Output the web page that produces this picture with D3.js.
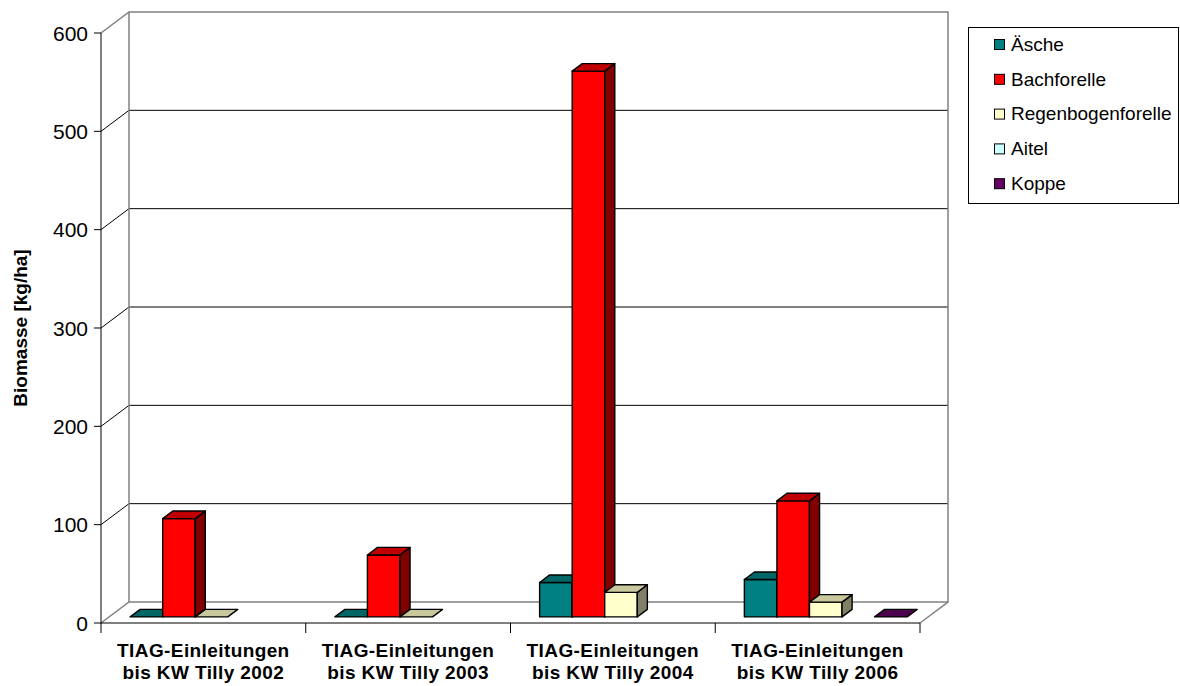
<!DOCTYPE html>
<html>
<head>
<meta charset="utf-8">
<script src="https://cdn.jsdelivr.net/npm/d3@7"></script>
<style>
  body { margin: 0; background: #fff; }
  svg { font-family: "Liberation Sans", Arial, sans-serif; }
</style>
</head>
<body>
<svg width="1180" height="686"></svg>
<script>
var categories = [
  ["TIAG-Einleitungen", "bis KW Tilly 2002"],
  ["TIAG-Einleitungen", "bis KW Tilly 2003"],
  ["TIAG-Einleitungen", "bis KW Tilly 2004"],
  ["TIAG-Einleitungen", "bis KW Tilly 2006"]
];
var seriesNames = ["Äsche", "Bachforelle", "Regenbogenforelle", "Aitel", "Koppe"];
// null = no value (not drawn)
var aesche = [0, 0, 35, 38];
var bachforelle = [100, 63, 555, 118];
var regenbogen = [0, 0, 25, 15];
var aitel = [null, null, null, null];
var koppe = [null, null, null, 0];
var yTicks = [0, 100, 200, 300, 400, 500, 600];

var seriesValues = [aesche, bachforelle, regenbogen, aitel, koppe];
var colors = [
  { front: "#008080", top: "#006666", side: "#004d4d" },
  { front: "#ff0000", top: "#c00000", side: "#800000" },
  { front: "#ffffcc", top: "#c8c89c", side: "#808066" },
  { front: "#ccffff", top: "#a3cccc", side: "#668080" },
  { front: "#660066", top: "#4d004d", side: "#330033" }
];

var svg = d3.select("svg");
var depthX = 28, depthY = -21;
var plotLeft = 101, plotRight = 920, plotBottom = 623, plotTop = 33;

var y = d3.scaleLinear().domain([0, 600]).range([plotBottom, plotTop]);
var x = d3.scaleBand().domain(d3.range(categories.length)).range([plotLeft, plotRight]);
var xs = d3.scaleBand().domain(d3.range(seriesNames.length))
    .range([21, x.bandwidth() - 21]);

// walls
var wall = svg.append("g");
// gridlines (side wall diagonal + back wall)
yTicks.forEach(function(t) {
  if (t === 0 || t === 600) return;
  wall.append("polyline")
    .attr("points", [[plotLeft, y(t)], [plotLeft + depthX, y(t) + depthY], [plotRight + depthX, y(t) + depthY]].join(" "))
    .attr("fill", "none").attr("stroke", "#000").attr("stroke-width", 1);
});
// wall edges (gray)
wall.append("polyline")
  .attr("points", [[plotLeft, y(600)], [plotLeft + depthX, y(600) + depthY], [plotRight + depthX, y(600) + depthY],
                   [plotRight + depthX, y(0) + depthY], [plotRight, y(0)]].join(" "))
  .attr("fill", "none").attr("stroke", "#808080").attr("stroke-width", 1.5);
wall.append("line")
  .attr("x1", plotLeft + depthX).attr("y1", y(600) + depthY)
  .attr("x2", plotLeft + depthX).attr("y2", y(0) + depthY)
  .attr("stroke", "#808080").attr("stroke-width", 1.5);
wall.append("polyline")
  .attr("points", [[plotLeft, y(0)], [plotLeft + depthX, y(0) + depthY], [plotRight + depthX, y(0) + depthY]].join(" "))
  .attr("fill", "none").attr("stroke", "#808080").attr("stroke-width", 1.5);

// axes
svg.append("line").attr("x1", plotLeft).attr("y1", y(600)).attr("x2", plotLeft).attr("y2", y(0))
  .attr("stroke", "#000");
svg.append("line").attr("x1", plotLeft).attr("y1", y(0)).attr("x2", plotRight).attr("y2", y(0))
  .attr("stroke", "#000");

yTicks.forEach(function(t) {
  svg.append("line").attr("x1", plotLeft - 7).attr("x2", plotLeft).attr("y1", y(t)).attr("y2", y(t))
    .attr("stroke", "#000");
  svg.append("text").attr("x", 88).attr("y", y(t)).attr("dy", "0.36em")
    .attr("text-anchor", "end").attr("font-size", 21).text(t);
});

d3.range(categories.length + 1).forEach(function(i) {
  var xx = plotLeft + i * x.bandwidth();
  svg.append("line").attr("x1", xx).attr("x2", xx).attr("y1", y(0)).attr("y2", y(0) + 10)
    .attr("stroke", "#000");
});

categories.forEach(function(c, i) {
  var t = svg.append("text").attr("text-anchor", "middle").attr("font-size", 19)
    .attr("font-weight", "bold").attr("letter-spacing", 0.4);
  t.append("tspan").attr("x", x(i) + x.bandwidth() / 2).attr("y", 657).text(c[0]);
  t.append("tspan").attr("x", x(i) + x.bandwidth() / 2).attr("y", 679).text(c[1]);
});

svg.append("text")
  .attr("transform", "translate(27,328) rotate(-90)")
  .attr("text-anchor", "middle").attr("font-size", 19).attr("font-weight", "bold")
  .text("Biomasse [kg/ha]");

// bars
var f0 = 0.29, f1 = 0.65;
var fx0 = depthX * f0, fy0 = depthY * f0, fx1 = depthX * f1, fy1 = depthY * f1;
var bars = svg.append("g").attr("stroke", "#000").attr("stroke-width", 1.4)
  .attr("stroke-linejoin", "round");

categories.forEach(function(c, i) {
  seriesNames.forEach(function(s, j) {
    var v = seriesValues[j][i];
    if (v === null) return;
    var x0 = x(i) + xs(j) + fx0, x1 = x0 + xs.bandwidth();
    var yb = y(0) + fy0, yt = y(v) + fy0;
    var dx = fx1 - fx0, dy = fy1 - fy0;
    var col = colors[j];
    if (v > 0) {
      bars.append("rect").attr("x", x0).attr("y", yt).attr("width", x1 - x0).attr("height", yb - yt)
        .attr("fill", col.front);
      bars.append("polygon")
        .attr("points", [[x1, yt], [x1 + dx, yt + dy], [x1 + dx, yb + dy], [x1, yb]].join(" "))
        .attr("fill", col.side);
    }
    bars.append("polygon")
      .attr("points", [[x0, yt], [x0 + dx, yt + dy], [x1 + dx, yt + dy], [x1, yt]].join(" "))
      .attr("fill", col.top);
  });
});

// legend
var legend = svg.append("g");
legend.append("rect").attr("x", 968.5).attr("y", 27.5).attr("width", 210).attr("height", 176)
  .attr("fill", "#fff").attr("stroke", "#000");
seriesNames.forEach(function(s, j) {
  var cy = 44 + j * 34.8;
  legend.append("rect").attr("x", 994.5).attr("y", cy - 4.5).attr("width", 10).attr("height", 10)
    .attr("fill", colors[j].front).attr("stroke", "#000");
  legend.append("text").attr("x", 1011).attr("y", cy).attr("dy", "0.36em")
    .attr("font-size", 19).text(s);
});
</script>
</body>
</html>
